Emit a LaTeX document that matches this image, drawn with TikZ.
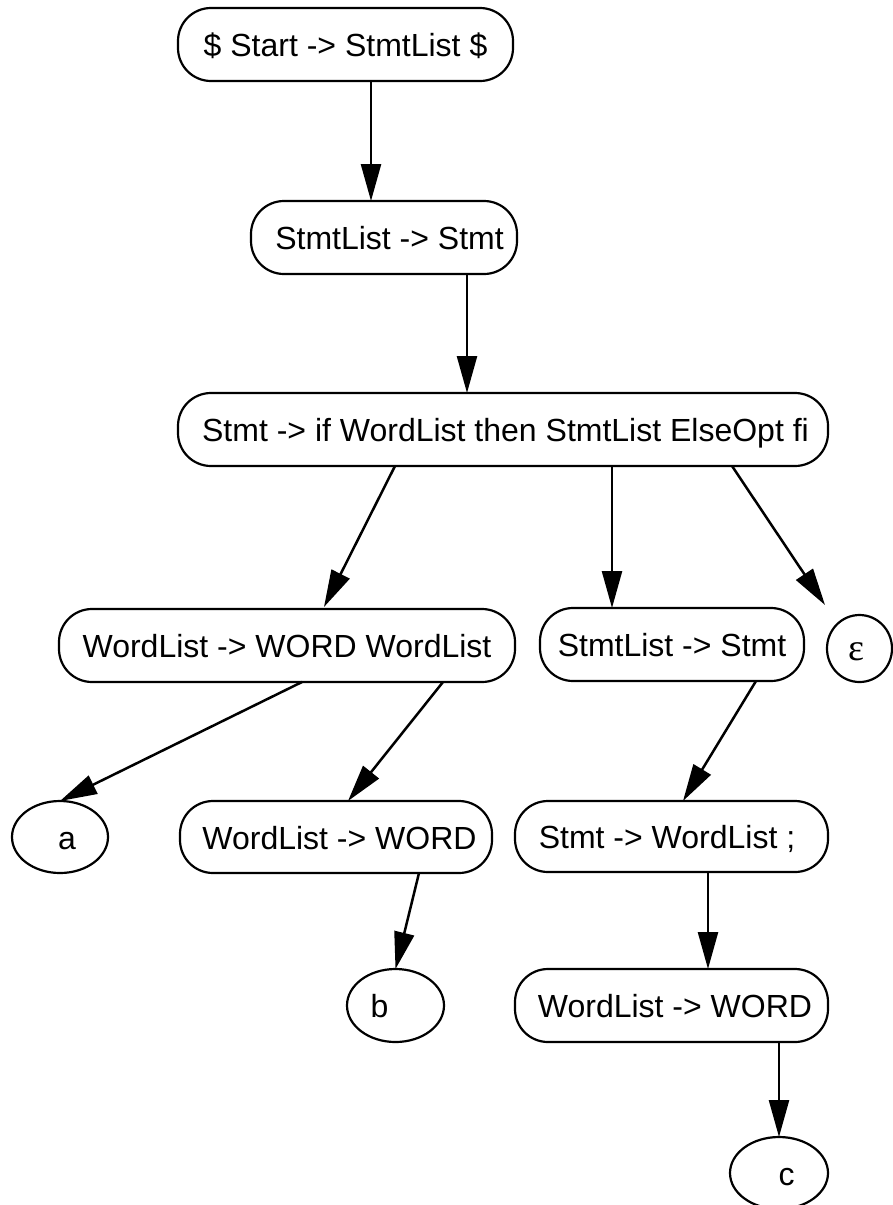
\documentclass[tikz,border=0pt]{standalone}
\usepackage{fontspec}
\setmainfont{Liberation Sans}
\newfontfamily\serifgreek{Liberation Serif}
\usetikzlibrary{shapes.geometric,arrows.meta}
\begin{document}
\begin{tikzpicture}[x=1pt,y=-1pt,
  every node/.style={font=\fontsize{32}{38}\selectfont, inner sep=0pt, outer sep=0pt, text height=24pt, text depth=0pt},
  rulebox/.style={draw, line width=2.2pt, rounded corners=33pt, minimum height=73pt},
  leaf/.style={draw, ellipse, line width=2.2pt},
  edgearrow/.style={line width=2.5pt, -{Triangle[length=37pt,width=20pt]}}
]
\useasboundingbox (0,0) rectangle (893,1205);

\node[rulebox, minimum width=335pt] (n1) at (345.5,44.5) {\$ Start -> StmtList \$};
\node[rulebox, minimum width=266pt] (n2) at (384,237.5) {\hspace*{11pt}StmtList -> Stmt};
\node[rulebox, minimum width=650pt] (n3) at (503,429.5) {\hspace*{5pt}Stmt -> if WordList then StmtList ElseOpt fi};
\node[rulebox, minimum width=456pt] (n4) at (287,645.5) {WordList -> WORD WordList};
\node[rulebox, minimum width=264pt] (n5) at (672,644.5) {StmtList -> Stmt};
\node[leaf, minimum width=65pt, minimum height=67pt] (eps) at (859.5,648.5) {{\serifgreek\fontsize{38}{40}\selectfont ε}\hspace*{6pt}};
\node[leaf, minimum width=96pt, minimum height=72pt] (a) at (60,837) {\hspace*{14pt}a};
\node[rulebox, minimum width=312pt, minimum height=72pt] (n8) at (336,837) {\hspace*{7pt}WordList -> WORD};
\node[rulebox, minimum width=313pt, minimum height=71pt] (n9) at (671.5,836.5) {Stmt -> WordList ;\hspace*{9pt}};
\node[leaf, minimum width=97pt, minimum height=73pt] (b) at (395.5,1005.5) {b\hspace*{32pt}};
\node[rulebox, minimum width=313pt] (n11) at (671.5,1005.5) {\hspace*{7pt}WordList -> WORD};
\node[leaf, minimum width=98pt, minimum height=72pt] (c) at (779,1173) {\hspace*{15pt}c};

\draw[edgearrow] ([xshift=25.5pt]n1.south) -- ([xshift=-13pt]n2.north);
\draw[edgearrow] ([xshift=83pt]n2.south) -- ([xshift=-36pt]n3.north);
\draw[edgearrow] ([xshift=-108pt]n3.south) -- ([xshift=37pt,yshift=2pt]n4.north);
\draw[edgearrow] ([xshift=109pt]n3.south) -- ([xshift=-60pt]n5.north);
\draw[edgearrow] ([xshift=229pt]n3.south) -- ([xshift=-34.5pt,yshift=10pt]eps.north);
\draw[edgearrow] ([xshift=15pt]n4.south) -- (a.north);
\draw[edgearrow] ([xshift=156pt]n4.south) -- ([xshift=12pt]n8.north);
\draw[edgearrow] ([xshift=84pt]n5.south) -- ([xshift=11.5pt]n9.north);
\draw[edgearrow] ([xshift=83pt]n8.south) -- (b.north);
\draw[edgearrow] ([xshift=36.5pt]n9.south) -- ([xshift=36.5pt]n11.north);
\draw[edgearrow] (n11.south -| c.north) -- (c.north);
\end{tikzpicture}
\end{document}
